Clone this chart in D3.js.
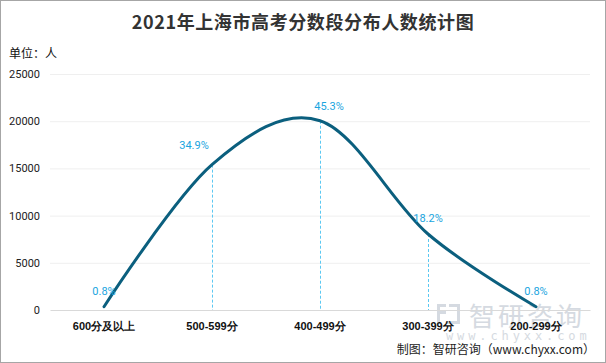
<!DOCTYPE html>
<html>
<head>
<meta charset="utf-8">
<script src="https://d3js.org/d3.v7.min.js"></script>
<style>
  body { margin: 0; background: #fff; }
  svg { display: block; font-family: "Noto Sans CJK SC", "Noto Sans", sans-serif; }
</style>
</head>
<body>
<svg id="chart" width="606" height="363"></svg>
<script>
// data
const categories = ['600分及以上', '500-599分', '400-499分', '300-399分', '200-299分'];
const counts = [350, 15400, 20050, 8050, 350];
const shares = ['0.8%', '34.9%', '45.3%', '18.2%', '0.8%'];
const yTicks = [0, 5000, 10000, 15000, 20000, 25000];

const svg = d3.select('#chart');
const W = 606, H = 363;
const margin = { top: 74, right: 16, bottom: 53, left: 50 };

// frame
svg.append('rect')
  .attr('x', 0.5).attr('y', 0.5)
  .attr('width', W - 1).attr('height', H - 1)
  .attr('fill', '#fff').attr('stroke', '#a6a6a6');

const x = d3.scaleBand()
  .domain(categories)
  .range([margin.left, W - margin.right]);
const y = d3.scaleLinear()
  .domain([0, 25000])
  .range([H - margin.bottom, margin.top]);

// gridlines
svg.append('g')
  .selectAll('line')
  .data(yTicks.slice(1))
  .join('line')
  .attr('x1', margin.left).attr('x2', W - margin.right)
  .attr('y1', d => y(d) + 0.5).attr('y2', d => y(d) + 0.5)
  .attr('stroke', '#efefef');

// y axis
const yAxis = svg.append('g')
  .attr('transform', `translate(${margin.left},0)`)
  .call(d3.axisLeft(y).tickValues(yTicks).tickSize(0).tickPadding(10).tickFormat(d3.format('d')));
yAxis.select('.domain').remove();
yAxis.selectAll('text').attr('font-size', 11).attr('fill', '#222').attr('font-family', 'Roboto, "Noto Sans", sans-serif');

// watermark (behind the axis labels and line)
const wm = svg.append('g').attr('fill', '#d5dae1');
wm.append('rect').attr('x', 437).attr('y', 304).attr('width', 9).attr('height', 3);
wm.append('rect').attr('x', 437).attr('y', 304).attr('width', 3).attr('height', 20);
wm.append('rect').attr('x', 437).attr('y', 311).attr('width', 9).attr('height', 3);
wm.append('rect').attr('x', 449).attr('y', 304).attr('width', 11).attr('height', 3);
wm.append('rect').attr('x', 457).attr('y', 304).attr('width', 3).attr('height', 20);
wm.append('rect').attr('x', 446).attr('y', 321).attr('width', 14).attr('height', 3);
wm.append('text').attr('x', 469).attr('y', 326).attr('font-size', 26).attr('letter-spacing', 3).text('智研咨询');
wm.append('text').attr('x', 446).attr('y', 340).attr('font-size', 12).attr('letter-spacing', 3.9)
  .attr('font-family', '"DejaVu Sans Mono", monospace').text('www.chyxx.com');

// x axis
const xAxis = svg.append('g')
  .attr('transform', `translate(0,${y(0)})`)
  .call(d3.axisBottom(x).tickSize(0).tickPadding(12));
xAxis.select('.domain').attr('stroke', '#d9d9d9');
xAxis.selectAll('text').attr('font-size', 11).attr('font-weight', 'bold').attr('fill', '#111');

// dashed drop lines for the inner points
svg.append('g')
  .selectAll('line')
  .data(categories.slice(1, 4))
  .join('line')
  .attr('x1', d => x(d) + x.bandwidth() / 2 + 0.5)
  .attr('x2', d => x(d) + x.bandwidth() / 2 + 0.5)
  .attr('y1', d => y(counts[categories.indexOf(d)]))
  .attr('y2', y(0))
  .attr('stroke', '#5bc8f2')
  .attr('stroke-dasharray', '3,2');

// smoothed line
const line = d3.line()
  .x((d, i) => x(categories[i]) + x.bandwidth() / 2)
  .y(d => y(d))
  .curve(d3.curveCardinal.tension(0));
svg.append('path')
  .datum(counts)
  .attr('d', line)
  .attr('fill', 'none')
  .attr('stroke', '#0b5f7e')
  .attr('stroke-width', 3)
  .attr('stroke-linecap', 'round');

// share labels
const labelDx = [0, -18, 9, 0, 0];
const labelDy = [-12, -16, -11, -12, -12];
svg.append('g')
  .selectAll('text')
  .data(shares)
  .join('text')
  .attr('x', (d, i) => x(categories[i]) + x.bandwidth() / 2 + labelDx[i])
  .attr('y', (d, i) => y(counts[i]) + labelDy[i])
  .attr('text-anchor', 'middle')
  .attr('font-size', 11)
  .attr('fill', '#1aa5e0')
  .attr('font-family', 'Roboto, "Noto Sans", sans-serif')
  .text(d => d);

// title and notes
svg.append('text')
  .attr('x', W / 2).attr('y', 29)
  .attr('text-anchor', 'middle')
  .attr('font-size', 18)
  .attr('font-weight', 'bold')
  .attr('fill', '#333')
  .attr('letter-spacing', 0.6)
  .text('2021年上海市高考分数段分布人数统计图');
svg.append('text')
  .attr('x', 9).attr('y', 58)
  .attr('font-size', 12)
  .attr('fill', '#111')
  .text('单位：人');
svg.append('text')
  .attr('x', 595).attr('y', 354)
  .attr('text-anchor', 'end')
  .attr('font-size', 12)
  .attr('fill', '#222')
  .text('制图：智研咨询（www.chyxx.com）');
</script>
</body>
</html>
